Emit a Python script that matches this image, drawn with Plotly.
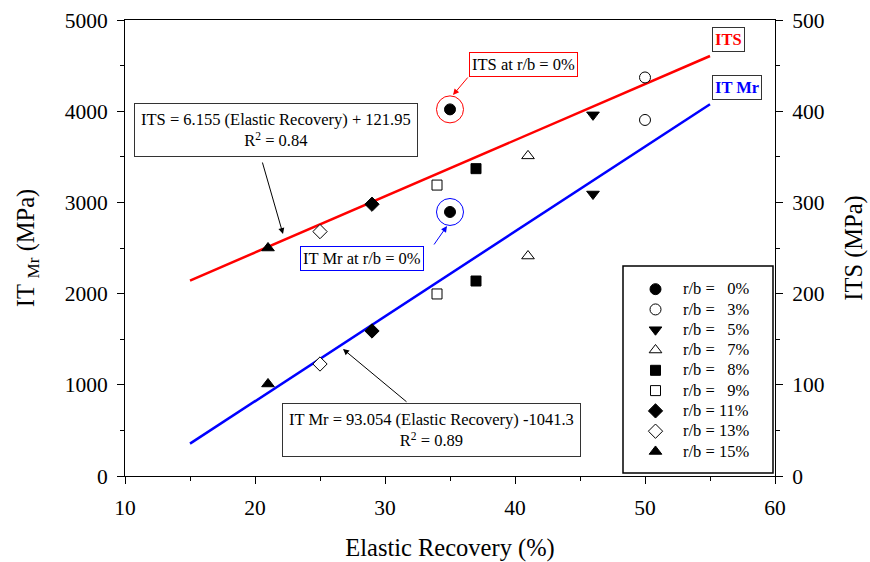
import plotly.graph_objects as go

# ---------------- data ----------------
rb_labels = ["0%", "3%", "5%", "7%", "8%", "9%", "11%", "13%", "15%"]
elastic_recovery = [35, 50, 46, 41, 37, 34, 29, 25, 21]
it_mr = [2895, 3904, 3092, 2412, 2138, 1996, 1590, 1228, 1009]
its = [402, 437, 396, 351, 337, 319, 298, 268, 250]
symbols = ["circle", "circle", "triangle-down", "triangle-up", "square", "square",
           "diamond", "diamond", "triangle-up"]
filled = [True, False, True, False, True, False, True, False, True]
sizes = [11, 11, 11, 11, 10, 10, 11, 11, 11]

fit_x = [15, 55]
its_fit = [214.3, 460.5]
mr_fit = [354.5, 4076.7]

FONT = "Liberation Serif, Times New Roman, Times, serif"

fig = go.Figure()

fig.add_trace(go.Scatter(x=fit_x, y=its_fit, mode="lines", yaxis="y2",
                         line=dict(color="#ff0000", width=2.5), showlegend=False,
                         hoverinfo="skip"))
fig.add_trace(go.Scatter(x=fit_x, y=mr_fit, mode="lines", yaxis="y",
                         line=dict(color="#0000ff", width=2.5), showlegend=False,
                         hoverinfo="skip"))

for i, lab in enumerate(rb_labels):
    name = ("<span style='font-size:16.5px'>r/b = "
            + ("\u00a0\u00a0" if len(lab) == 2 else "") + lab + "</span>")
    mk = dict(symbol=symbols[i], size=sizes[i],
              color="black" if filled[i] else "white",
              line=dict(color="black", width=1))
    fig.add_trace(go.Scatter(x=[elastic_recovery[i]], y=[it_mr[i]], mode="markers",
                             yaxis="y", marker=mk, name=name, legendgroup=lab,
                             showlegend=True))
    fig.add_trace(go.Scatter(x=[elastic_recovery[i]], y=[its[i]], mode="markers",
                             yaxis="y2", marker=mk, name=name, legendgroup=lab,
                             showlegend=False))

# pixel -> data helpers for annotation placement
def xd(px):
    return 10 + (px - 125) / 13.0

def yd(py):
    return (476 - py) * 5000 / 456.0

annots = []
annots.append(dict(x=xd(134), y=yd(103), xref="x", yref="y", xanchor="left", yanchor="top",
                   text="ITS = 6.155 (Elastic Recovery) + 121.95<br>R<sup>2</sup> = 0.84",
                   showarrow=False, align="center", bgcolor="white",
                   bordercolor="#333", borderwidth=1, borderpad=6,
                   font=dict(family=FONT, size=16.5, color="black")))
annots.append(dict(x=xd(282), y=yd(403), xref="x", yref="y", xanchor="left", yanchor="top",
                   text="IT Mr = 93.054 (Elastic Recovery) -1041.3<br>R<sup>2</sup> = 0.89",
                   showarrow=False, align="center", bgcolor="white",
                   bordercolor="#333", borderwidth=1, borderpad=6,
                   font=dict(family=FONT, size=16.5, color="black")))
annots.append(dict(x=xd(469), y=yd(52), xref="x", yref="y", xanchor="left", yanchor="top",
                   text="ITS at r/b = 0%", showarrow=False, bgcolor="white",
                   bordercolor="#ff0000", borderwidth=1, borderpad=2,
                   font=dict(family=FONT, size=16.5, color="black")))
annots.append(dict(x=xd(300), y=yd(246), xref="x", yref="y", xanchor="left", yanchor="top",
                   text="IT Mr at r/b = 0%", showarrow=False, bgcolor="white",
                   bordercolor="#0000ff", borderwidth=1, borderpad=2,
                   font=dict(family=FONT, size=16.5, color="black")))
annots.append(dict(x=xd(712), y=yd(27), xref="x", yref="y", xanchor="left", yanchor="top",
                   text="<b>ITS</b>", showarrow=False, bgcolor="white",
                   bordercolor="#333", borderwidth=1, borderpad=2,
                   font=dict(family=FONT, size=16.5, color="#ff0000")))
annots.append(dict(x=xd(712), y=yd(75), xref="x", yref="y", xanchor="left", yanchor="top",
                   text="<b>IT Mr</b>", showarrow=False, bgcolor="white",
                   bordercolor="#333", borderwidth=1, borderpad=2,
                   font=dict(family=FONT, size=16.5, color="#0000ff")))

def arrow(tx, ty, hx, hy, color):
    return dict(x=xd(hx), y=yd(hy), ax=xd(tx), ay=yd(ty), xref="x", yref="y",
                axref="x", ayref="y", text="", showarrow=True, arrowhead=2,
                arrowsize=1.2, arrowwidth=1, arrowcolor=color)

annots.append(arrow(262, 161, 283, 234, "black"))
annots.append(arrow(408, 403, 343, 349, "black"))
annots.append(arrow(469, 76, 453, 95, "#ff0000"))
annots.append(arrow(433, 246, 447, 226, "#0000ff"))

shapes = [
    dict(type="circle", xref="x", yref="y2", xsizemode="pixel", ysizemode="pixel",
         xanchor=elastic_recovery[0], yanchor=its[0], x0=-13.5, x1=13.5, y0=-13.5, y1=13.5,
         line=dict(color="#ff0000", width=1)),
    dict(type="circle", xref="x", yref="y", xsizemode="pixel", ysizemode="pixel",
         xanchor=elastic_recovery[0], yanchor=it_mr[0], x0=-13.5, x1=13.5, y0=-13.5, y1=13.5,
         line=dict(color="#0000ff", width=1)),
    dict(type="rect", xref="paper", yref="paper",
         x0=(623 - 125) / 650, x1=(773 - 125) / 650,
         y0=(476 - 473) / 456, y1=(476 - 266) / 456,
         line=dict(color="black", width=1.5), fillcolor="rgba(0,0,0,0)", layer="above"),
]

axis_common = dict(showgrid=False, zeroline=False, showline=True, linecolor="black",
                   linewidth=1, ticks="outside", ticklen=7, tickcolor="black",
                   ticklabelstandoff=5, automargin=False,
                   tickfont=dict(family=FONT, size=21.5, color="black"))

fig.update_layout(
    width=870, height=562,
    margin=dict(l=125, r=95, t=20, b=86),
    paper_bgcolor="white", plot_bgcolor="white",
    font=dict(family=FONT, color="black"),
    xaxis=dict(range=[10, 60], tickvals=[10, 20, 30, 40, 50, 60], mirror=True,
               minor=dict(dtick=5, tick0=10, ticks="outside", ticklen=4, tickcolor="black"),
               title=dict(text="Elastic Recovery (%)", standoff=21,
                          font=dict(family=FONT, size=24.5, color="black")),
               **axis_common),
    yaxis=dict(range=[0, 5000], tickvals=[0, 1000, 2000, 3000, 4000, 5000],
               minor=dict(dtick=500, tick0=0, ticks="outside", ticklen=4, tickcolor="black"),
               title=dict(text="IT <sub>Mr</sub> (MPa)", standoff=23,
                          font=dict(family=FONT, size=24.5, color="black")),
               **axis_common),
    yaxis2=dict(range=[0, 500], tickvals=[0, 100, 200, 300, 400, 500], overlaying="y",
                side="right",
                minor=dict(dtick=50, tick0=0, ticks="outside", ticklen=4, tickcolor="black"),
                title=dict(text="ITS (MPa)", standoff=21,
                           font=dict(family=FONT, size=24.5, color="black")),
                **axis_common),
    legend=dict(x=(628 - 125) / 650, y=(476 - 274) / 456, xanchor="left", yanchor="top",
                bgcolor="rgba(255,255,255,0)", borderwidth=0, tracegroupgap=0,
                itemwidth=45,
                font=dict(family=FONT, size=13.3, color="black")),
    annotations=annots,
    shapes=shapes,
)

fig.write_html("out.html")
